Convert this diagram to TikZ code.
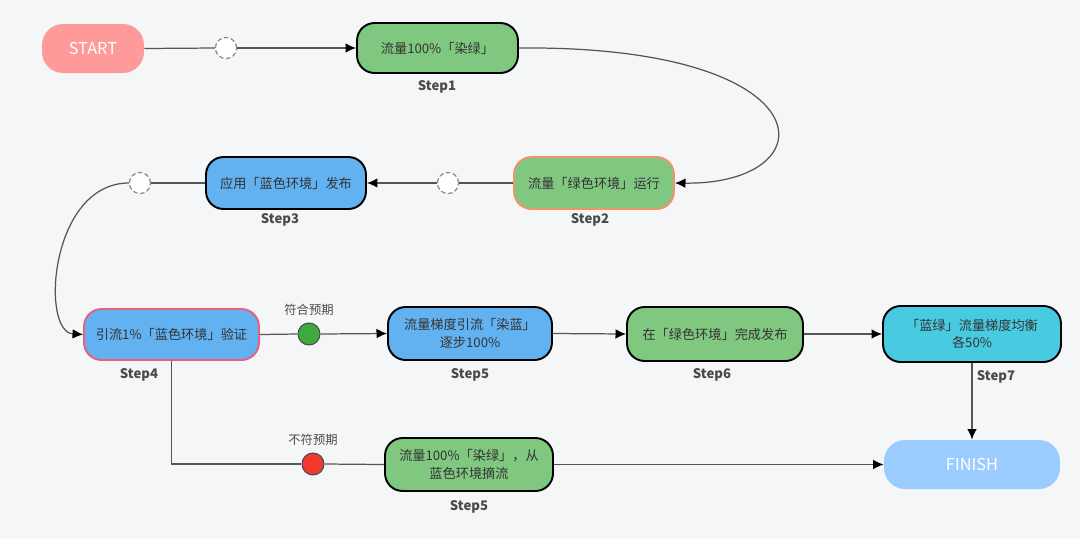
\documentclass[tikz,border=0pt]{standalone}
\usepackage{fontspec}
\setmainfont{Noto Sans CJK SC}
\usetikzlibrary{arrows.meta}
\definecolor{bg}{HTML}{F5F6F8}
\definecolor{gfill}{HTML}{80C780}
\definecolor{bfill}{HTML}{62B2F2}
\definecolor{cfill}{HTML}{48CAE0}
\definecolor{sfill}{HTML}{FF9A9A}
\definecolor{ffill}{HTML}{9ACCFF}
\definecolor{txt}{HTML}{333333}
\definecolor{lbl}{HTML}{4A4A4A}
\definecolor{edge}{HTML}{555555}
\definecolor{oborder}{HTML}{F0946A}
\definecolor{pborder}{HTML}{E8607E}
\definecolor{okc}{HTML}{3CAA3C}
\definecolor{badc}{HTML}{EE3B2E}
\tikzset{
  box/.style={rounded corners=10pt, minimum height=1cm, align=center, font=\fontsize{7.5}{10}\selectfont, text=txt, line width=1.1pt, draw=black, inner sep=2pt},
  term/.style={rounded corners=12pt, minimum height=0.98cm, text=white, font=\fontsize{9.3}{10}\selectfont},
  steplbl/.style={font=\fontsize{7.5}{9}\selectfont\bfseries, text=lbl},
  jump/.style={circle, minimum size=0.42cm, inner sep=0pt, fill=white, draw=edge!70, dashed, dash pattern=on 2.5pt off 1.5pt, line width=0.6pt},
  dot/.style={circle, minimum size=0.44cm, inner sep=0pt, draw=black!70, line width=0.6pt},
  cond/.style={font=\fontsize{7}{9}\selectfont, text=lbl},
  conn/.style={draw=edge, line width=0.7pt},
  arr/.style={conn, -{Latex[length=6pt,width=5.5pt,black]}}
}
\begin{document}
\begin{tikzpicture}[x=0.02cm,y=-0.02cm]
\fill[bg] (0,0) rectangle (1080,539);
\useasboundingbox (0,0) rectangle (1080,539);
% nodes
\node[term, fill=sfill, minimum width=2.04cm] (start) at (93,48.5) {START};
\node[box, fill=gfill, minimum width=3.22cm] (s1) at (437.5,48) {流量100\%「染绿」};
\node[steplbl] (l1) at (437,87) {Step1};
\node[jump] (j1) at (226,48) {};
\node[box, fill=gfill, draw=oborder, minimum width=3.2cm, minimum height=1.04cm] (s2) at (594,183) {流量「绿色环境」运行};
\node[steplbl] (l2) at (590,220) {Step2};
\node[jump] (j2) at (448,183) {};
\node[box, fill=bfill, minimum width=3.2cm, minimum height=1.04cm] (s3) at (286,183) {应用「蓝色环境」发布};
\node[steplbl] (l3) at (280,220) {Step3};
\node[jump] (j3) at (140,183) {};
\node[box, fill=bfill, draw=pborder, minimum width=3.5cm, minimum height=1.02cm] (s4) at (171.5,334.5) {引流1\%「蓝色环境」验证};
\node[steplbl] (l4) at (139,375) {Step4};
\node[dot, fill=okc] (ok) at (309,334) {};
\node[cond] (okl) at (309,310) {符合预期};
\node[box, fill=bfill, minimum width=3.28cm, minimum height=1.06cm] (s5) at (470,333.5) {流量梯度引流「染蓝」\\逐步100\%};
\node[steplbl] (l5) at (470,375) {Step5};
\node[box, fill=gfill, minimum width=3.52cm, minimum height=1.08cm] (s6) at (715,334) {在「绿色环境」完成发布};
\node[steplbl] (l6) at (712,375) {Step6};
\node[box, fill=cfill, minimum width=3.56cm, minimum height=1.12cm] (s7) at (972,334) {「蓝绿」流量梯度均衡\\各50\%};
\node[steplbl] (l7) at (996,377) {Step7};
\node[term, fill=ffill, minimum width=3.52cm] (fin) at (972,464.5) {FINISH};
\node[dot, fill=badc] (bad) at (313,464) {};
\node[cond] (badl) at (313,440) {不符预期};
\node[box, fill=gfill, minimum width=3.36cm, minimum height=1.06cm] (s5b) at (469,464.5) {流量100\%「染绿」，从\\蓝色环境摘流};
\node[steplbl] (l5b) at (469,507) {Step5};
% connectors
\draw[conn] (start.east) -- (j1.west);
\draw[arr] (j1.east) -- (s1.west);
\draw[arr] (s1.east) .. controls (830,45) and (830,185) .. (s2.east);
\draw[conn] (s2.west) -- (j2.east);
\draw[arr] (j2.west) -- (s3.east);
\draw[conn] (s3.west) -- (j3.east);
\draw[arr] (j3.west) .. controls (50,183) and (40,332) .. (s4.west);
\draw[conn] (s4.east) -- (ok.west);
\draw[arr] (ok.east) -- (s5.west);
\draw[arr] (s5.east) -- (s6.west);
\draw[arr] (s6.east) -- (s7.west);
\draw[arr, line width=1pt] (s7.south) -- (fin.north);
\draw[conn] (s4.south) |- (bad.west);
\draw[conn] (bad.east) -- (s5b.west);
\draw[arr] (s5b.east) -- (fin.west);
% redraw jump circles above lines
\node[jump] at (j1) {};
\node[jump] at (j2) {};
\node[jump] at (j3) {};
\end{tikzpicture}
\end{document}
